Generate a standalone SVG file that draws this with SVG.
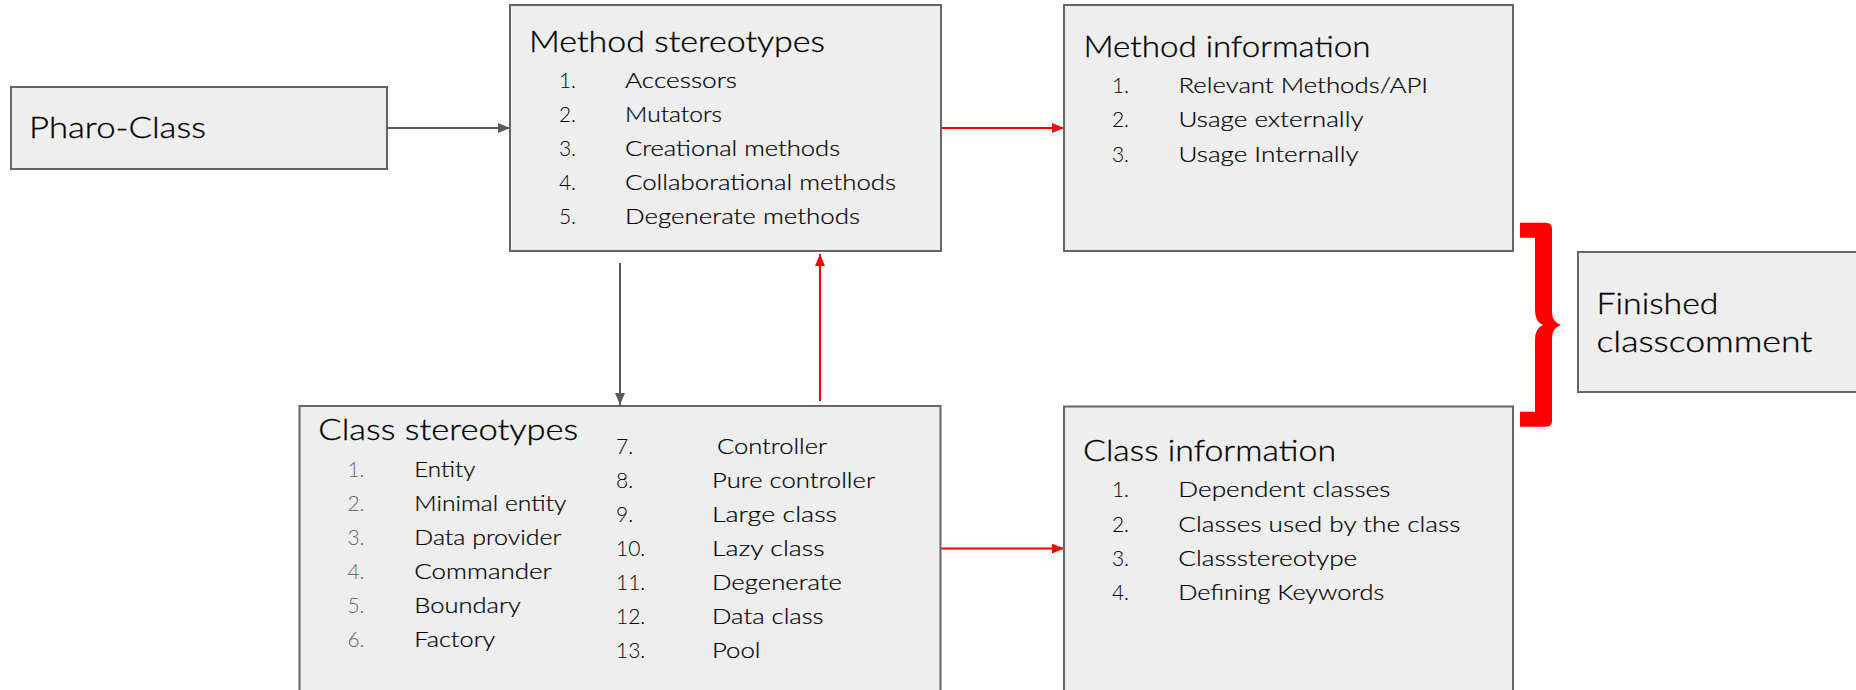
<svg xmlns="http://www.w3.org/2000/svg" width="1856" height="690" viewBox="0 0 1856 690">
<defs>
<style>
.box{fill:#eeeeee;stroke:#666666;stroke-width:2}
text{font-family:Lato,"Noto Sans","Liberation Sans",sans-serif;font-weight:300;fill:#000}
.t{font-size:29px;stroke:#000;stroke-width:0.3}
.i{font-size:22px;fill:#000;stroke:#000;stroke-width:0.2}
.n{font-size:21px;fill:#000}
.g{fill:#666}
.e{text-anchor:end}
.cg{stroke:#595959;stroke-width:2;fill:none}
.cr{stroke:#ff0000;stroke-width:2;fill:none}
</style>
<marker id="ag" viewBox="0 0 12 10" refX="12" refY="5" markerWidth="12" markerHeight="10" markerUnits="userSpaceOnUse" orient="auto"><path d="M0,0 L12,5 L0,10 Z" fill="#595959"/></marker>
<marker id="ar" viewBox="0 0 12 10" refX="12" refY="5" markerWidth="12" markerHeight="10" markerUnits="userSpaceOnUse" orient="auto"><path d="M0,0 L12,5 L0,10 Z" fill="#ff0000"/></marker>
</defs>
<rect width="1856" height="690" fill="#ffffff"/>

<g id="connectors">
<line class="cg" x1="387" y1="128" x2="510" y2="128" marker-end="url(#ag)"/>
<line class="cr" x1="941" y1="128" x2="1064" y2="128" marker-end="url(#ar)"/>
<line class="cg" x1="620" y1="263" x2="620" y2="405" marker-end="url(#ag)"/>
<line class="cr" x1="820" y1="401" x2="820" y2="254" marker-end="url(#ar)"/>
<line class="cr" x1="941" y1="548.5" x2="1064" y2="548.5" marker-end="url(#ar)"/>
</g>

<g id="pharo-class">
<rect class="box" x="11" y="87" width="376" height="82"/>
<text class="t" x="29" y="138" textLength="177" lengthAdjust="spacingAndGlyphs">Pharo-Class</text>
</g>

<g id="method-stereotypes">
<rect class="box" x="510" y="5" width="431" height="246"/>
<text class="t" x="529" y="51.7" textLength="296" lengthAdjust="spacingAndGlyphs">Method stereotypes</text>
<text class="n e" x="576" y="87.5">1.</text>
<text class="n e" x="576" y="121.5">2.</text>
<text class="n e" x="576" y="155.5">3.</text>
<text class="n e" x="576" y="189.5">4.</text>
<text class="n e" x="576" y="223.5">5.</text>
<text class="i" x="625" y="87.5" textLength="112" lengthAdjust="spacingAndGlyphs">Accessors</text>
<text class="i" x="625" y="121.5" textLength="97" lengthAdjust="spacingAndGlyphs">Mutators</text>
<text class="i" x="625" y="155.5" textLength="215" lengthAdjust="spacingAndGlyphs">Creational methods</text>
<text class="i" x="625" y="189.5" textLength="271" lengthAdjust="spacingAndGlyphs">Collaborational methods</text>
<text class="i" x="625" y="223.5" textLength="235" lengthAdjust="spacingAndGlyphs">Degenerate methods</text>
</g>

<g id="method-information">
<rect class="box" x="1064" y="5" width="449" height="246"/>
<text class="t" x="1083.5" y="57.3" textLength="287" lengthAdjust="spacingAndGlyphs">Method information</text>
<text class="n e" x="1129" y="93.3">1.</text>
<text class="n e" x="1129" y="127.3">2.</text>
<text class="n e" x="1129" y="161.5">3.</text>
<text class="i" x="1178.5" y="93.3" textLength="249.5" lengthAdjust="spacingAndGlyphs">Relevant Methods/API</text>
<text class="i" x="1178.5" y="127.3" textLength="185" lengthAdjust="spacingAndGlyphs">Usage externally</text>
<text class="i" x="1178.5" y="161.5" textLength="180" lengthAdjust="spacingAndGlyphs">Usage Internally</text>
</g>

<g id="class-stereotypes">
<rect class="box" x="299.5" y="406" width="641" height="300"/>
<text class="t" x="318.3" y="440" textLength="260" lengthAdjust="spacingAndGlyphs">Class stereotypes</text>
<text class="n e g" x="364.5" y="477">1.</text>
<text class="n e g" x="364.5" y="511">2.</text>
<text class="n e g" x="364.5" y="545">3.</text>
<text class="n e g" x="364.5" y="579">4.</text>
<text class="n e g" x="364.5" y="613">5.</text>
<text class="n e g" x="364.5" y="647">6.</text>
<text class="i" x="414.3" y="477" textLength="61" lengthAdjust="spacingAndGlyphs">Entity</text>
<text class="i" x="414.3" y="511" textLength="152" lengthAdjust="spacingAndGlyphs">Minimal entity</text>
<text class="i" x="414.3" y="545" textLength="147" lengthAdjust="spacingAndGlyphs">Data provider</text>
<text class="i" x="414.3" y="579" textLength="137.5" lengthAdjust="spacingAndGlyphs">Commander</text>
<text class="i" x="414.3" y="613" textLength="106.5" lengthAdjust="spacingAndGlyphs">Boundary</text>
<text class="i" x="414.3" y="647" textLength="81" lengthAdjust="spacingAndGlyphs">Factory</text>
<text class="n" x="616" y="454">7.</text>
<text class="n" x="616" y="488.3">8.</text>
<text class="n" x="616" y="522.3">9.</text>
<text class="n" x="616" y="556">10.</text>
<text class="n" x="616" y="590">11.</text>
<text class="n" x="616" y="623.7">12.</text>
<text class="n" x="616" y="657.7">13.</text>
<text class="i" x="717" y="454" textLength="110" lengthAdjust="spacingAndGlyphs">Controller</text>
<text class="i" x="712" y="488.3" textLength="163" lengthAdjust="spacingAndGlyphs">Pure controller</text>
<text class="i" x="712" y="522.3" textLength="125" lengthAdjust="spacingAndGlyphs">Large class</text>
<text class="i" x="712" y="556" textLength="112.5" lengthAdjust="spacingAndGlyphs">Lazy class</text>
<text class="i" x="712" y="590" textLength="130" lengthAdjust="spacingAndGlyphs">Degenerate</text>
<text class="i" x="712" y="623.7" textLength="111.5" lengthAdjust="spacingAndGlyphs">Data class</text>
<text class="i" x="712" y="657.7" textLength="48.5" lengthAdjust="spacingAndGlyphs">Pool</text>
</g>

<g id="class-information">
<rect class="box" x="1064" y="406.5" width="449" height="300"/>
<text class="t" x="1083" y="460.7" textLength="253" lengthAdjust="spacingAndGlyphs">Class information</text>
<text class="n e" x="1129" y="497.3">1.</text>
<text class="n e" x="1129" y="531.7">2.</text>
<text class="n e" x="1129" y="565.7">3.</text>
<text class="n e" x="1129" y="600">4.</text>
<text class="i" x="1178.3" y="497.3" textLength="212" lengthAdjust="spacingAndGlyphs">Dependent classes</text>
<text class="i" x="1178.3" y="531.7" textLength="282" lengthAdjust="spacingAndGlyphs">Classes used by the class</text>
<text class="i" x="1178.3" y="565.7" textLength="179" lengthAdjust="spacingAndGlyphs">Classstereotype</text>
<text class="i" x="1178.3" y="600" textLength="206" lengthAdjust="spacingAndGlyphs">Defining Keywords</text>
</g>

<g id="brace">
<path d="M1520,222.7 H1546 Q1552,222.7 1552,229 V312 Q1552,322 1561,325 Q1552,328 1552,338 V421 Q1552,426.7 1546,426.7 H1520 V411.7 H1535 V340 Q1535,328 1543,325 Q1535,322 1535,310 V237.7 H1520 Z" fill="#ff0000"/>
</g>

<g id="finished-classcomment">
<rect class="box" x="1578" y="252" width="300" height="140"/>
<text class="t" x="1596.5" y="314.3" textLength="122" lengthAdjust="spacingAndGlyphs">Finished</text>
<text class="t" x="1596.5" y="351.7" textLength="216" lengthAdjust="spacingAndGlyphs">classcomment</text>
</g>
</svg>
